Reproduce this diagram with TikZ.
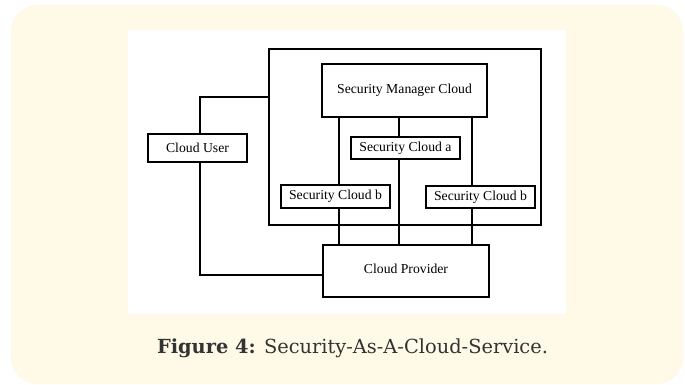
\documentclass[tikz,border=0pt]{standalone}
\usepackage{fontspec}
\setmainfont{Liberation Serif}
\newfontfamily\capfont{DejaVu Serif}
\definecolor{panel}{HTML}{FEFAE7}
\definecolor{captext}{HTML}{333333}

\tikzset{
  cbox/.style={draw, line width=1.3pt, inner sep=0pt,
    font=\fontsize{13.7}{16}\selectfont},
  wire/.style={line width=1.2pt}
}

\begin{document}
\begin{tikzpicture}[x=1pt, y=-1pt]
  % background panel and figure area
  \fill [panel, rounded corners=26pt] (11,5) rectangle (683,384);
  \fill [white] (128,30) rectangle (566,314);
  \useasboundingbox (0,0) rectangle (685,385);

  % outer cloud
  \node [cbox, minimum width=272pt, minimum height=176pt] (outer) at (405,137) {};

  % boxes
  \node [cbox, minimum width=165pt, minimum height=53pt] (smc) at (404.5,90.5)
    {\raisebox{4pt}{Security Manager Cloud}\hspace{22pt}};
  \node [cbox, minimum width=99pt, minimum height=28pt] (user) at (197.5,148)
    {Cloud User\hspace{16pt}};
  \node [cbox, minimum width=109pt, minimum height=22pt, fill=white] (sca) at (405.5,148)
    {Security Cloud a\hspace{5pt}};
  \node [cbox, minimum width=109pt, minimum height=23pt, fill=white] (scbl) at (335.5,196.5)
    {Security Cloud b\hspace{5pt}};
  \node [cbox, minimum width=109pt, minimum height=22pt, fill=white] (scbr) at (480.5,197)
    {\raisebox{1pt}{Security Cloud b}\hspace{3pt}};
  \node [cbox, minimum width=166pt, minimum height=52pt] (prov) at (406,271)
    {\raisebox{4pt}{Cloud Provider}\hspace{32pt}};

  % where the links run
  \coordinate (ka) at (339,0);
  \coordinate (kb) at (399,0);
  \coordinate (kc) at (472,0);
  \coordinate (up) at (0,97);
  \coordinate (dn) at (0,275);
  \coordinate (ux) at (200,0);

  % links
  \foreach \k/\s in {ka/scbl, kb/sca, kc/scbr} {
    \draw [wire] (smc.south -| \k) -- (\s.north -| \k);
    \draw [wire] (\s.south -| \k) -- (prov.north -| \k);
  }
  \draw [wire] (user.north -| ux) |- (outer.west |- up);
  \draw [wire] (user.south -| ux) |- (prov.west |- dn);

  % caption
  \node [font=\capfont\fontsize{19.4}{22}\selectfont, text=captext, anchor=base,
    inner sep=0pt] (cap) at (352.5,353)
    {\textbf{Figure 4:} Security-As-A-Cloud-Service.};
\end{tikzpicture}
\end{document}
